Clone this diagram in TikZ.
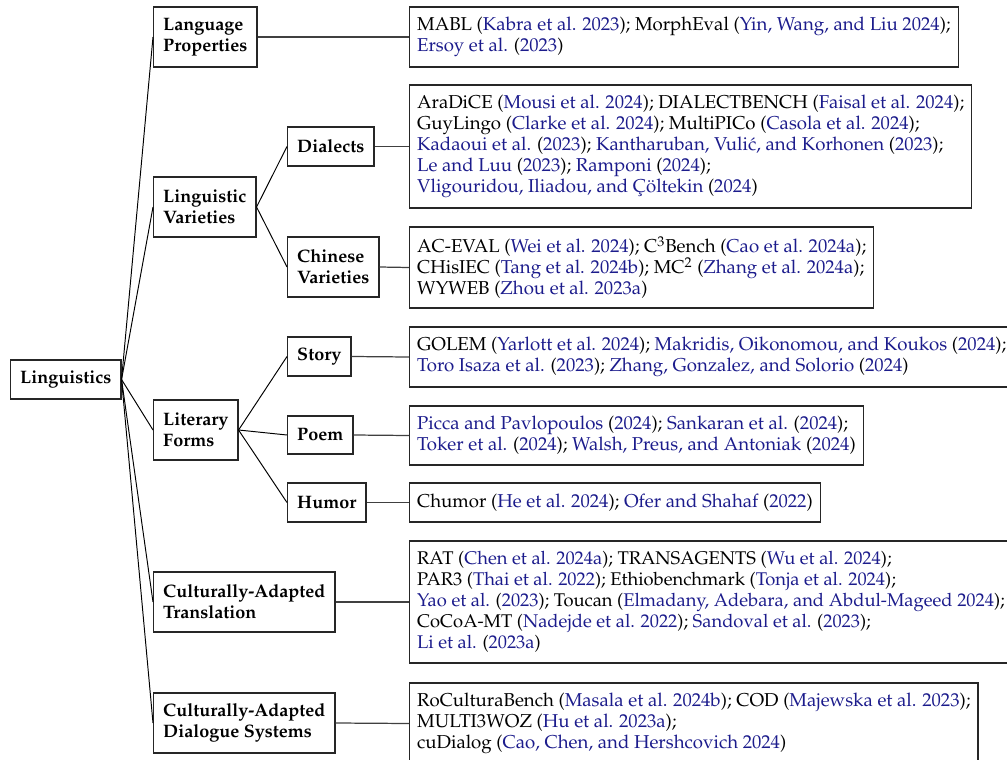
\documentclass[tikz,border=0pt]{standalone}
\usepackage[T1]{fontenc}
\usepackage{mathpazo}
\definecolor{citeblue}{RGB}{28,28,140}
\newcommand{\cb}[1]{\textcolor{citeblue}{#1}}
\tikzset{
  cat/.style={draw=black!85, line width=0.7pt, font=\fontsize{10.3}{12}\selectfont\bfseries, align=left, anchor=west, inner xsep=5.5pt, inner ysep=2pt},
  leaf/.style={draw=black!85, line width=0.7pt, font=\fontsize{10.65}{12}\selectfont, align=left, anchor=west, inner xsep=4.3pt, inner ysep=2pt},
  h1/.style={minimum height=22.3pt},
  h2/.style={minimum height=34.3pt},
  link/.style={draw=black, line width=0.55pt},
  llink/.style={draw=black!75, line width=0.7pt}
}
\begin{document}
\begin{tikzpicture}[x=0.5714pt,y=-0.5714pt]
\useasboundingbox (0,0) rectangle (1007,760);
% root
\node[cat,h1] (ling) at (10,379.5) {Linguistics};
% level 1
\node[cat,h2] (lp)   at (153,37)  {Language\\Properties};
\node[cat,h2] (lv)   at (153,207) {Linguistic\\Varieties};
\node[cat,h2] (lf)   at (153,430) {Literary\\Forms};
\node[cat,h2] (ctr)  at (153,602) {Culturally-Adapted\\Translation};
\node[cat,h2] (cds)  at (153,723) {Culturally-Adapted\\Dialogue Systems};
% level 2
\node[cat,h1] (dia)  at (287,146.5) {Dialects};
\node[cat,h2] (chv)  at (287,267)   {Chinese\\Varieties};
\node[cat,h1] (sto)  at (287,356.5) {Story};
\node[cat,minimum height=21.7pt] (poe)  at (287,435) {Poem};
\node[cat,h1] (hum)  at (287,502.5) {Humor};
% leaves
\node[leaf,minimum height=34.3pt] (lpL) at (409,37)
  {MABL (\cb{Kabra et al. 2023}); MorphEval (\cb{Yin, Wang, and Liu 2024});\\
   \cb{Ersoy et al.} (\cb{2023})};
\node[leaf,minimum height=70.3pt] (diaL) at (409,146.5)
  {AraDiCE (\cb{Mousi et al. 2024}); DIALECTBENCH (\cb{Faisal et al. 2024});\\
   GuyLingo (\cb{Clarke et al. 2024}); MultiPICo (\cb{Casola et al. 2024});\\
   \cb{Kadaoui et al.} (\cb{2023}); \cb{Kantharuban, Vuli\'c, and Korhonen} (\cb{2023});\\
   \cb{Le and Luu} (\cb{2023}); \cb{Ramponi} (\cb{2024});\\
   \cb{Vligouridou, Iliadou, and \c{C}\"oltekin} (\cb{2024})};
\node[leaf,minimum height=46.3pt] (chvL) at (409,267.5)
  {AC-EVAL (\cb{Wei et al. 2024}); C$^3$Bench (\cb{Cao et al. 2024a});\\
   CHisIEC (\cb{Tang et al. 2024b}); MC$^2$ (\cb{Zhang et al. 2024a});\\
   WYWEB (\cb{Zhou et al. 2023a})};
\node[leaf,minimum height=34.3pt] (stoL) at (409,357)
  {GOLEM (\cb{Yarlott et al. 2024}); \cb{Makridis, Oikonomou, and Koukos} (\cb{2024});\\
   \cb{Toro Isaza et al.} (\cb{2023}); \cb{Zhang, Gonzalez, and Solorio} (\cb{2024})};
\node[leaf,minimum height=33.7pt] (poeL) at (409,435.5)
  {\cb{Picca and Pavlopoulos} (\cb{2024}); \cb{Sankaran et al.} (\cb{2024});\\
   \cb{Toker et al.} (\cb{2024}); \cb{Walsh, Preus, and Antoniak} (\cb{2024})};
\node[leaf,minimum height=22.3pt] (humL) at (409,502.5)
  {Chumor (\cb{He et al. 2024}); \cb{Ofer and Shahaf} (\cb{2022})};
\node[leaf,minimum height=69.7pt,font=\fontsize{10.5}{12}\selectfont] (ctrL) at (409,602)
  {RAT (\cb{Chen et al. 2024a}); TRANSAGENTS (\cb{Wu et al. 2024});\\
   PAR3 (\cb{Thai et al. 2022}); Ethiobenchmark (\cb{Tonja et al. 2024});\\
   \cb{Yao et al.} (\cb{2023}); Toucan (\cb{Elmadany, Adebara, and Abdul-Mageed 2024});\\
   CoCoA-MT (\cb{Nadejde et al. 2022}); \cb{Sandoval et al.} (\cb{2023});\\
   \cb{Li et al.} (\cb{2023a})};
\node[leaf,minimum height=46.3pt] (cdsL) at (409,723.5)
  {RoCulturaBench (\cb{Masala et al. 2024b}); COD (\cb{Majewska et al. 2023});\\
   MULTI3WOZ (\cb{Hu et al. 2023a});\\
   cuDialog (\cb{Cao, Chen, and Hershcovich 2024})};
% connectors root -> level 1
\foreach \n in {lp,lv,lf,ctr,cds} \path[link] (ling.east) -- (\n.west);
% level 1 -> level 2
\path[link] (lv.east) -- (dia.west);
\path[link] (lv.east) -- (chv.west);
\path[link] (lf.east) -- (sto.west);
\path[link] (lf.east) -- (poe.west);
\path[link] (lf.east) -- (hum.west);
% to leaves
\path[llink] (lp.east) -- (lpL.west);
\path[llink] (dia.east) -- (diaL.west);
\path[llink] (chv.east) -- (chvL.west);
\path[llink] (sto.east) -- (stoL.west);
\path[llink] (poe.east) -- (poeL.west);
\path[llink] (hum.east) -- (humL.west);
\path[llink] (ctr.east) -- (ctrL.west);
\path[llink] (cds.east) -- (cdsL.west);
\end{tikzpicture}
\end{document}
